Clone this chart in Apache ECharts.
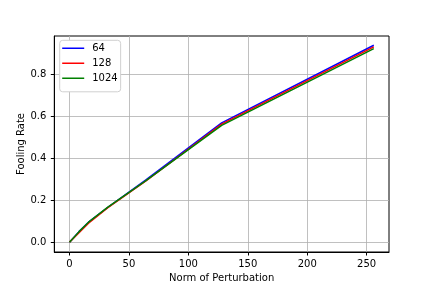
<!DOCTYPE html>
<html>
<head>
<meta charset="utf-8">
<script src="https://cdn.jsdelivr.net/npm/echarts@6/dist/echarts.min.js"></script>
<style>html,body{margin:0;padding:0;background:#fff}#c{width:432px;height:288px}</style>
</head>
<body>
<div id="c"></div>
<script>
var norms = [0, 8, 16, 32, 64, 128, 256];
var rate64 = [0, 0.05, 0.095, 0.165, 0.295, 0.568, 0.938];
var rate128 = [0, 0.045, 0.09, 0.163, 0.29, 0.562, 0.93];
var rate1024 = [0, 0.05, 0.095, 0.166, 0.292, 0.556, 0.922];
var xTicks = [0, 50, 100, 150, 200, 250];
var yTicks = [0, 0.2, 0.4, 0.6, 0.8];
var seriesNames = ['64', '128', '1024'];
var colors = ['#0000ff', '#ff0000', '#008000'];

function pairs(ys) { return norms.map(function (x, i) { return [x, ys[i]]; }); }
var font = 'DejaVu Sans';
var lineIcon = 'path://M0,0h22v0.01h-22z M0,5.75h22v1.5h-22z M0,12.99h22v0.01h-22z';
var chart = echarts.init(document.getElementById('c'), null, {renderer: 'canvas'});
var allData = [rate64, rate128, rate1024];
chart.setOption({
  animation: false,
  grid: {left: 54.3, right: 43, top: 36, bottom: 35.3, show: true, borderColor: '#000', borderWidth: 1, containLabel: false},
  legend: {
    orient: 'vertical', left: 59.7, top: 40.3,
    itemWidth: 22, itemHeight: 13, itemGap: 2,
    padding: [1.5, 3, 7, 2.5],
    backgroundColor: '#fff', borderColor: '#d0d0d0', borderWidth: 1, borderRadius: 3,
    textStyle: {fontFamily: font, fontSize: 10, color: '#000', padding: [0, 0, 0, 3]},
    data: seriesNames.map(function (n) { return {name: n, icon: lineIcon}; })
  },
  xAxis: {
    type: 'value', min: -12.8, max: 268.8,
    name: 'Norm of Perturbation', nameLocation: 'middle', nameGap: 21, nameMoveOverlap: false,
    nameTextStyle: {fontFamily: font, fontSize: 10, color: '#000'},
    axisLine: {show: true, onZero: false, lineStyle: {color: '#000', width: 1}},
    axisTick: {show: true, length: 3.5, customValues: xTicks, lineStyle: {color: '#000'}},
    axisLabel: {customValues: xTicks, margin: 7, fontFamily: font, fontSize: 10, color: '#000'},
    splitLine: {show: true, lineStyle: {color: '#b0b0b0', width: 0.8}}
  },
  yAxis: {
    type: 'value', min: -0.047, max: 0.982,
    name: 'Fooling Rate', nameLocation: 'middle', nameGap: 28, nameMoveOverlap: false,
    nameTextStyle: {fontFamily: font, fontSize: 10, color: '#000'},
    axisLine: {show: true, onZero: false, lineStyle: {color: '#000', width: 1}},
    axisTick: {show: true, length: 3.5, customValues: yTicks, lineStyle: {color: '#000'}},
    axisLabel: {customValues: yTicks, margin: 8, fontFamily: font, fontSize: 10, color: '#000',
      formatter: function (v) { return v.toFixed(1); }},
    splitLine: {show: true, lineStyle: {color: '#b0b0b0', width: 0.8}}
  },
  series: seriesNames.map(function (n, i) {
    return {
      name: n, type: 'line', data: pairs(allData[i]), symbol: 'none', showSymbol: false,
      lineStyle: {color: colors[i], width: 1.5}, itemStyle: {color: colors[i]}, z: 2 + i
    };
  })
});
</script>
</body>
</html>
